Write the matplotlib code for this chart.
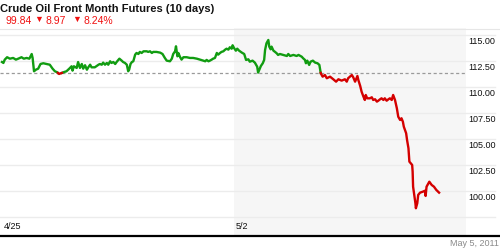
import numpy as np
import matplotlib
matplotlib.use("Agg")
import matplotlib.pyplot as plt
from matplotlib.lines import Line2D

plt.rcParams['font.family'] = ['Liberation Sans', 'DejaVu Sans']

# trading days since 4/25 (5/2 = 5) and price
t = [0.00, 0.03, 0.06, 0.11, 0.17, 0.24, 0.30, 0.35, 0.42, 0.47, 0.53, 0.59, 0.64, 0.66, 0.69, 0.73,
     0.78, 0.83, 0.89, 0.96, 1.03, 1.09, 1.14, 1.19, 1.23, 1.29, 1.34, 1.39, 1.45, 1.50, 1.52, 1.55,
     1.61, 1.64, 1.68, 1.72, 1.75, 1.79, 1.83, 1.86, 1.90, 1.93, 2.00, 2.08, 2.11, 2.15, 2.18, 2.22,
     2.26, 2.29, 2.33, 2.36, 2.40, 2.44, 2.47, 2.53, 2.58, 2.61, 2.65, 2.69, 2.72, 2.74, 2.77, 2.80,
     2.83, 2.87, 2.90, 2.94, 2.97, 3.01, 3.05, 3.12, 3.15, 3.19, 3.23, 3.26, 3.33, 3.41, 3.46, 3.51,
     3.55, 3.62, 3.66, 3.69, 3.73, 3.75, 3.77, 3.78, 3.80, 3.84, 3.87, 3.91, 3.98, 4.05, 4.12, 4.20,
     4.27, 4.34, 4.38, 4.41, 4.45, 4.48, 4.52, 4.55, 4.59, 4.63, 4.66, 4.70, 4.73, 4.77, 4.81, 4.84,
     4.88, 4.91, 4.95, 4.97, 5.00, 5.04, 5.07, 5.11, 5.17, 5.22, 5.26, 5.31, 5.34, 5.40, 5.45, 5.50,
     5.52, 5.55, 5.58, 5.62, 5.65, 5.67, 5.70, 5.74, 5.76, 5.79, 5.81, 5.85, 5.88, 5.92, 5.95, 5.99,
     6.06, 6.14, 6.17, 6.21, 6.28, 6.35, 6.39, 6.46, 6.49, 6.53, 6.55, 6.58, 6.62, 6.65, 6.70, 6.75,
     6.80, 6.84, 6.87, 6.91, 6.96, 7.00, 7.07, 7.14, 7.20, 7.25, 7.32, 7.39, 7.43, 7.46, 7.50, 7.54,
     7.57, 7.61, 7.63, 7.66, 7.68, 7.72, 7.75, 7.79, 7.82, 7.84, 7.87, 7.93, 7.97, 8.00, 8.04, 8.08,
     8.11, 8.15, 8.18, 8.22, 8.25, 8.29, 8.33, 8.36, 8.40, 8.43, 8.47, 8.51, 8.54, 8.58, 8.61, 8.64,
     8.66, 8.71, 8.73, 8.76, 8.78, 8.81, 8.84, 8.85, 8.86, 8.89, 8.91, 8.92, 8.95, 8.97, 9.01, 9.07,
     9.12, 9.13, 9.15, 9.21, 9.26, 9.31, 9.36, 9.42]
price = [112.40, 112.31, 112.63, 112.86, 112.72, 112.79, 112.63, 112.72, 112.86, 112.72, 112.79, 112.72,
         113.17, 112.79, 111.51, 111.66, 111.76, 112.21, 112.28, 112.21, 112.14, 111.76, 111.51, 111.41,
         111.25, 111.35, 111.44, 111.51, 111.76, 111.99, 111.57, 111.99, 111.83, 112.40, 111.83, 112.21,
         111.76, 112.09, 111.66, 111.89, 112.14, 111.89, 111.89, 112.14, 112.21, 112.14, 112.34, 112.14,
         112.31, 112.14, 112.47, 112.31, 112.40, 112.21, 112.40, 112.72, 112.53, 112.40, 112.31, 112.14,
         111.51, 111.66, 112.21, 112.40, 112.47, 113.11, 113.27, 113.17, 113.37, 113.27, 113.43, 113.43,
         113.37, 113.43, 113.27, 113.37, 113.37, 113.30, 113.17, 112.79, 112.53, 112.47, 112.72, 113.17,
         113.43, 113.91, 113.27, 112.95, 113.27, 112.86, 112.63, 112.86, 112.86, 112.79, 112.79, 112.72,
         112.63, 112.53, 112.47, 112.60, 112.47, 112.53, 112.63, 112.72, 112.79, 113.27, 113.11, 113.27,
         113.37, 113.43, 113.59, 113.68, 113.59, 113.82, 113.68, 114.01, 113.75, 113.49, 113.68, 113.49,
         113.30, 113.17, 112.60, 112.66, 112.43, 112.53, 112.34, 111.95, 111.38, 111.70, 112.02, 112.28,
         112.60, 113.56, 114.20, 114.52, 113.88, 113.62, 113.88, 113.49, 113.39, 113.24, 113.08, 113.17,
         113.08, 112.98, 113.17, 112.98, 113.08, 112.98, 113.08, 112.91, 112.76, 112.60, 112.28, 112.53,
         112.12, 112.43, 112.53, 112.34, 112.28, 112.12, 111.32, 110.99, 111.15, 110.84, 110.99, 110.74,
         110.51, 110.74, 110.61, 110.74, 110.51, 110.84, 110.99, 111.15, 110.93, 110.51, 110.74, 111.06,
         110.67, 110.10, 109.55, 109.07, 108.75, 109.23, 108.91, 108.91, 109.01, 108.75, 108.82, 108.59,
         108.68, 108.82, 108.91, 108.75, 108.91, 108.68, 108.82, 108.91, 108.75, 109.23, 108.75, 107.95,
         107.14, 106.83, 106.99, 106.66, 106.18, 105.55, 104.90, 104.11, 102.82, 102.66, 102.50, 101.86,
         100.41, 99.45, 98.82, 98.34, 98.82, 99.62, 99.84, 99.93, 100.03, 99.52, 100.41, 100.89,
         100.58, 100.41, 100.10, 99.84]
ref_level = 111.35
yticks = [100.0, 102.5, 105.0, 107.5, 110.0, 112.5, 115.0]
grid_levels = [97.5, 100.0, 102.5, 105.0, 107.5, 110.0, 112.5, 115.0]
date_ticks = [0, 5]
date_labels = ['4/25', '5/2']

GREEN = '#119c11'
RED = '#d40000'

fig = plt.figure(figsize=(5, 2.5), dpi=100)
ax = fig.add_axes([0, 14 / 250, 1, 208 / 250])
ax.set_xlim(-0.043, 10.733)
ax.set_ylim(95.67, 115.67)
ax.axis('off')

# shaded current week
ax.axvspan(5, 10, color='#f6f6f6', zorder=0, lw=0)
for g in grid_levels:
    ax.axhline(g, xmax=495 / 500, color='#ececec', lw=1, zorder=1)
ax.axhline(ref_level, xmax=466 / 500, color='#9a9a9a', lw=0.9, ls=(0, (2.5, 2)), zorder=2)

# split the line at the reference level
tt, pp = [t[0]], [price[0]]
for i in range(1, len(t)):
    a, b = price[i - 1], price[i]
    if (a - ref_level) * (b - ref_level) < 0:
        f = (ref_level - a) / (b - a)
        tt.append(t[i - 1] + f * (t[i] - t[i - 1]))
        pp.append(ref_level)
    tt.append(t[i])
    pp.append(b)
tt = np.array(tt)
pp = np.array(pp)
up = np.where(pp >= ref_level, pp, np.nan)
dn = np.where(pp <= ref_level, pp, np.nan)
ax.plot(tt, up, color=GREEN, lw=1.7, solid_joinstyle='round', zorder=3)
ax.plot(tt, dn, color=RED, lw=1.7, solid_joinstyle='round', zorder=3)

for v in yticks:
    ax.text(10.05, v - 0.22, '%.2f' % v, fontsize=6.5, va='top', ha='left', color='#111111')
for d, lab in zip(date_ticks, date_labels):
    ax.text(d + 0.04, 96.54, lab, fontsize=6.5, va='center', ha='left', color='#111111')

# frame lines
fig.add_artist(Line2D([0, 1], [1 - 28.5 / 250] * 2, color='#e6e6e6', lw=0.8))
fig.add_artist(Line2D([0, 1], [1 - 236 / 250] * 2, color='black', lw=1.6))

fig.text(0.001, 1 - 8.5 / 250, 'Crude Oil Front Month Futures (10 days)', fontsize=8,
         fontweight='bold', va='center', ha='left', color='#111111')
RED_TXT = '#f01010'
fig.text(5 / 500, 1 - 20.5 / 250, '99.84', fontsize=7.5, va='center', color=RED_TXT)
fig.text(34 / 500, 1 - 19.5 / 250, '\u25bc', fontsize=6.5, va='center', color=RED_TXT)
fig.text(45 / 500, 1 - 20.5 / 250, '8.97', fontsize=7.5, va='center', color=RED_TXT)
fig.text(72 / 500, 1 - 19.5 / 250, '\u25bc', fontsize=6.5, va='center', color=RED_TXT)
fig.text(83 / 500, 1 - 20.5 / 250, '8.24%', fontsize=7.5, va='center', color=RED_TXT)
fig.text(499 / 500, 1 - 244 / 250, 'May 5, 2011', fontsize=6.5, va='center', ha='right', color='#8a8a8a')

fig.savefig('out.png', dpi=100)
